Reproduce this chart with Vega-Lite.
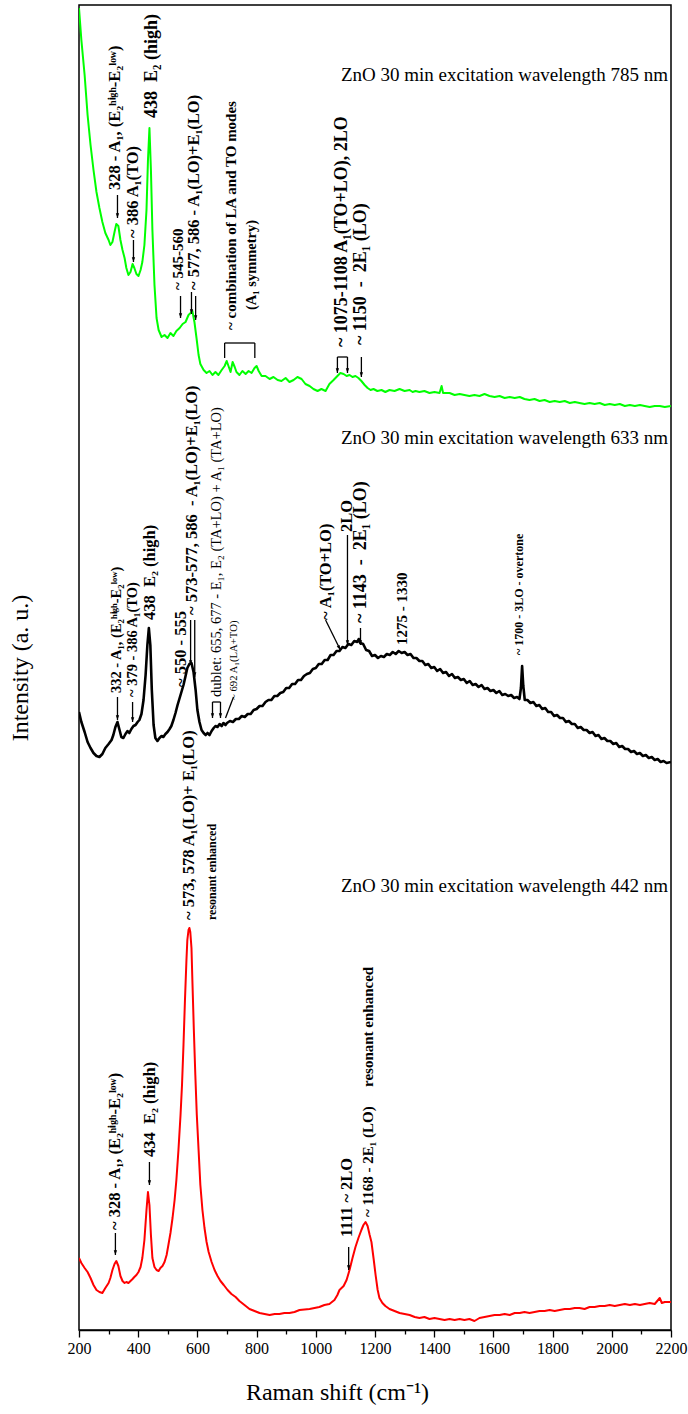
{
  "$schema": "https://vega.github.io/schema/vega-lite/v6.json",
  "width": 592,
  "height": 1325,
  "autosize": {"type": "none"},
  "padding": {"left": 79, "top": 5, "right": 17, "bottom": 84},
  "background": "white",
  "config": {
    "view": {"stroke": "#000", "strokeWidth": 1.5},
    "font": "Liberation Serif",
    "axis": {"labelFont": "Liberation Serif", "titleFont": "Liberation Serif", "labelColor": "#000", "titleColor": "#000", "domainColor": "#000", "tickColor": "#000", "grid": false},
    "text": {"font": "Liberation Serif", "color": "#000"}
  },
  "datasets": {
    "exc785": [
      {"shift":200,"intensity":1322},{"shift":208,"intensity":1290},{"shift":219,"intensity":1255},{"shift":229,"intensity":1215},{"shift":239,"intensity":1185},{"shift":249,"intensity":1160},{"shift":259,"intensity":1138},{"shift":269,"intensity":1122},{"shift":279,"intensity":1108},{"shift":289,"intensity":1097},{"shift":300,"intensity":1090},{"shift":306,"intensity":1085},{"shift":313,"intensity":1088},{"shift":320,"intensity":1098},{"shift":326,"intensity":1106},{"shift":333,"intensity":1104},{"shift":340,"intensity":1090},{"shift":347,"intensity":1080},{"shift":354,"intensity":1072},{"shift":360,"intensity":1062},{"shift":367,"intensity":1055},{"shift":374,"intensity":1058},{"shift":381,"intensity":1066},{"shift":387,"intensity":1062},{"shift":394,"intensity":1056},{"shift":401,"intensity":1054},{"shift":408,"intensity":1060},{"shift":414,"intensity":1068},{"shift":421,"intensity":1085},{"shift":428,"intensity":1120},{"shift":433,"intensity":1170},{"shift":438,"intensity":1202},{"shift":443,"intensity":1160},{"shift":448,"intensity":1100},{"shift":455,"intensity":1045},{"shift":462,"intensity":1012},{"shift":469,"intensity":1000},{"shift":479,"intensity":993},{"shift":489,"intensity":995},{"shift":499,"intensity":992},{"shift":509,"intensity":997},{"shift":519,"intensity":994},{"shift":529,"intensity":999},{"shift":540,"intensity":1002},{"shift":550,"intensity":1006},{"shift":560,"intensity":1008},{"shift":570,"intensity":1015},{"shift":577,"intensity":1017},{"shift":583,"intensity":1019},{"shift":590,"intensity":1008},{"shift":597,"intensity":992},{"shift":604,"intensity":975},{"shift":610,"intensity":966},{"shift":621,"intensity":960},{"shift":631,"intensity":957},{"shift":641,"intensity":959},{"shift":651,"intensity":955},{"shift":661,"intensity":958},{"shift":671,"intensity":955},{"shift":682,"intensity":960},{"shift":692,"intensity":964},{"shift":699,"intensity":969},{"shift":705,"intensity":964},{"shift":712,"intensity":958},{"shift":719,"intensity":968},{"shift":726,"intensity":963},{"shift":732,"intensity":958},{"shift":742,"intensity":955},{"shift":752,"intensity":959},{"shift":763,"intensity":956},{"shift":773,"intensity":959},{"shift":783,"intensity":957},{"shift":793,"intensity":962},{"shift":800,"intensity":964},{"shift":807,"intensity":959},{"shift":817,"intensity":954},{"shift":830,"intensity":954},{"shift":844,"intensity":951},{"shift":857,"intensity":953},{"shift":871,"intensity":950},{"shift":884,"intensity":949},{"shift":898,"intensity":952},{"shift":911,"intensity":948},{"shift":925,"intensity":950},{"shift":938,"intensity":953},{"shift":952,"intensity":951},{"shift":965,"intensity":946},{"shift":979,"intensity":944},{"shift":992,"intensity":941},{"shift":1006,"intensity":939},{"shift":1019,"intensity":941},{"shift":1033,"intensity":939},{"shift":1046,"intensity":946},{"shift":1060,"intensity":950},{"shift":1073,"intensity":954},{"shift":1083,"intensity":957},{"shift":1094,"intensity":956},{"shift":1104,"intensity":954},{"shift":1114,"intensity":955},{"shift":1124,"intensity":953},{"shift":1134,"intensity":954},{"shift":1144,"intensity":952},{"shift":1154,"intensity":949},{"shift":1165,"intensity":945},{"shift":1175,"intensity":942},{"shift":1185,"intensity":940},{"shift":1195,"intensity":941},{"shift":1208,"intensity":939},{"shift":1222,"intensity":940},{"shift":1235,"intensity":938},{"shift":1249,"intensity":940},{"shift":1266,"intensity":939},{"shift":1283,"intensity":941},{"shift":1300,"intensity":939},{"shift":1317,"intensity":940},{"shift":1327,"intensity":938},{"shift":1337,"intensity":939},{"shift":1350,"intensity":938},{"shift":1367,"intensity":939},{"shift":1384,"intensity":937},{"shift":1401,"intensity":938},{"shift":1418,"intensity":937},{"shift":1425,"intensity":944},{"shift":1430,"intensity":937},{"shift":1452,"intensity":937},{"shift":1469,"intensity":935},{"shift":1486,"intensity":936},{"shift":1502,"intensity":935},{"shift":1519,"intensity":934},{"shift":1536,"intensity":935},{"shift":1553,"intensity":934},{"shift":1570,"intensity":936},{"shift":1587,"intensity":934},{"shift":1604,"intensity":933},{"shift":1621,"intensity":934},{"shift":1638,"intensity":932},{"shift":1655,"intensity":933},{"shift":1672,"intensity":932},{"shift":1689,"intensity":933},{"shift":1705,"intensity":931},{"shift":1722,"intensity":930},{"shift":1739,"intensity":931},{"shift":1756,"intensity":929},{"shift":1773,"intensity":930},{"shift":1790,"intensity":928},{"shift":1807,"intensity":929},{"shift":1824,"intensity":928},{"shift":1841,"intensity":929},{"shift":1858,"intensity":927},{"shift":1875,"intensity":928},{"shift":1891,"intensity":927},{"shift":1908,"intensity":926},{"shift":1925,"intensity":927},{"shift":1942,"intensity":926},{"shift":1959,"intensity":927},{"shift":1976,"intensity":925},{"shift":1993,"intensity":926},{"shift":2010,"intensity":925},{"shift":2027,"intensity":926},{"shift":2044,"intensity":924},{"shift":2061,"intensity":925},{"shift":2078,"intensity":924},{"shift":2095,"intensity":925},{"shift":2111,"intensity":924},{"shift":2128,"intensity":923},{"shift":2145,"intensity":924},{"shift":2162,"intensity":924},{"shift":2179,"intensity":923},{"shift":2200,"intensity":924}
    ],
    "exc633": [
      {"shift":200,"intensity":618},{"shift":208,"intensity":608},{"shift":219,"intensity":598},{"shift":229,"intensity":588},{"shift":239,"intensity":582},{"shift":249,"intensity":577},{"shift":259,"intensity":574},{"shift":269,"intensity":573},{"shift":279,"intensity":576},{"shift":289,"intensity":582},{"shift":300,"intensity":586},{"shift":310,"intensity":590},{"shift":316,"intensity":595},{"shift":323,"intensity":603},{"shift":330,"intensity":608},{"shift":337,"intensity":600},{"shift":343,"intensity":593},{"shift":350,"intensity":592},{"shift":357,"intensity":596},{"shift":364,"intensity":599},{"shift":370,"intensity":597},{"shift":377,"intensity":601},{"shift":384,"intensity":604},{"shift":391,"intensity":605},{"shift":398,"intensity":608},{"shift":404,"intensity":610},{"shift":411,"intensity":616},{"shift":418,"intensity":630},{"shift":425,"intensity":655},{"shift":431,"intensity":685},{"shift":436,"intensity":702},{"shift":441,"intensity":685},{"shift":446,"intensity":640},{"shift":452,"intensity":605},{"shift":458,"intensity":592},{"shift":465,"intensity":589},{"shift":472,"intensity":592},{"shift":479,"intensity":594},{"shift":485,"intensity":593},{"shift":492,"intensity":596},{"shift":499,"intensity":598},{"shift":506,"intensity":601},{"shift":512,"intensity":604},{"shift":519,"intensity":610},{"shift":526,"intensity":617},{"shift":533,"intensity":625},{"shift":540,"intensity":632},{"shift":546,"intensity":638},{"shift":553,"intensity":645},{"shift":560,"intensity":654},{"shift":566,"intensity":662},{"shift":573,"intensity":666},{"shift":580,"intensity":667},{"shift":587,"intensity":658},{"shift":594,"intensity":640},{"shift":600,"intensity":620},{"shift":607,"intensity":608},{"shift":614,"intensity":600},{"shift":621,"intensity":597},{"shift":628,"intensity":595},{"shift":634,"intensity":597},{"shift":641,"intensity":595},{"shift":648,"intensity":599},{"shift":655,"intensity":602},{"shift":661,"intensity":604},{"shift":668,"intensity":603},{"shift":675,"intensity":606},{"shift":682,"intensity":604},{"shift":688,"intensity":607},{"shift":695,"intensity":605},
      {"shift":700,"intensity":607},{"shift":710,"intensity":609},{"shift":720,"intensity":608},{"shift":730,"intensity":611},{"shift":740,"intensity":611},{"shift":750,"intensity":614},{"shift":760,"intensity":613},{"shift":770,"intensity":616},{"shift":780,"intensity":616},{"shift":790,"intensity":620},{"shift":800,"intensity":621},{"shift":810,"intensity":624},{"shift":820,"intensity":624},{"shift":830,"intensity":628},{"shift":840,"intensity":630},{"shift":850,"intensity":630},{"shift":860,"intensity":634},{"shift":870,"intensity":634},{"shift":880,"intensity":637},{"shift":890,"intensity":638},{"shift":900,"intensity":642},{"shift":910,"intensity":642},{"shift":920,"intensity":646},{"shift":930,"intensity":646},{"shift":940,"intensity":650},{"shift":950,"intensity":650},{"shift":960,"intensity":654},{"shift":970,"intensity":656},{"shift":980,"intensity":657},{"shift":990,"intensity":661},{"shift":1000,"intensity":662},{"shift":1010,"intensity":666},{"shift":1020,"intensity":666},{"shift":1030,"intensity":670},{"shift":1040,"intensity":670},{"shift":1050,"intensity":675},{"shift":1060,"intensity":675},{"shift":1070,"intensity":679},{"shift":1080,"intensity":679},{"shift":1090,"intensity":683},{"shift":1100,"intensity":682},{"shift":1110,"intensity":686},{"shift":1120,"intensity":685},{"shift":1130,"intensity":689},{"shift":1140,"intensity":688},{"shift":1145,"intensity":691},{"shift":1150,"intensity":687},{"shift":1160,"intensity":686},{"shift":1170,"intensity":680},{"shift":1180,"intensity":679},{"shift":1190,"intensity":674},{"shift":1200,"intensity":675},{"shift":1210,"intensity":672},{"shift":1220,"intensity":674},{"shift":1230,"intensity":673},{"shift":1240,"intensity":676},{"shift":1250,"intensity":675},{"shift":1260,"intensity":678},{"shift":1270,"intensity":676},{"shift":1280,"intensity":679},{"shift":1290,"intensity":677},{"shift":1300,"intensity":678},{"shift":1310,"intensity":675},{"shift":1320,"intensity":676},{"shift":1330,"intensity":672},{"shift":1340,"intensity":672},{"shift":1350,"intensity":669},{"shift":1360,"intensity":669},{"shift":1370,"intensity":665},{"shift":1380,"intensity":666},{"shift":1390,"intensity":662},{"shift":1400,"intensity":663},{"shift":1410,"intensity":659},{"shift":1420,"intensity":661},{"shift":1430,"intensity":657},{"shift":1440,"intensity":658},{"shift":1450,"intensity":654},{"shift":1460,"intensity":656},{"shift":1470,"intensity":652},{"shift":1480,"intensity":653},{"shift":1490,"intensity":650},{"shift":1500,"intensity":651},{"shift":1510,"intensity":647},{"shift":1520,"intensity":649},{"shift":1530,"intensity":645},{"shift":1540,"intensity":646},{"shift":1550,"intensity":643},{"shift":1560,"intensity":645},{"shift":1570,"intensity":641},{"shift":1580,"intensity":642},{"shift":1590,"intensity":639},{"shift":1600,"intensity":640},{"shift":1610,"intensity":637},{"shift":1620,"intensity":639},{"shift":1630,"intensity":635},{"shift":1640,"intensity":636},{"shift":1650,"intensity":634},{"shift":1660,"intensity":635},{"shift":1670,"intensity":632},{"shift":1680,"intensity":633},{"shift":1688,"intensity":631},{"shift":1693,"intensity":642},{"shift":1697,"intensity":664},{"shift":1701,"intensity":644},{"shift":1706,"intensity":630},{"shift":1715,"intensity":630},{"shift":1725,"intensity":627},{"shift":1735,"intensity":628},{"shift":1745,"intensity":624},{"shift":1755,"intensity":625},{"shift":1765,"intensity":621},{"shift":1775,"intensity":622},{"shift":1785,"intensity":618},{"shift":1795,"intensity":618},{"shift":1805,"intensity":614},{"shift":1815,"intensity":615},{"shift":1825,"intensity":612},{"shift":1835,"intensity":612},{"shift":1845,"intensity":608},{"shift":1855,"intensity":609},{"shift":1865,"intensity":606},{"shift":1875,"intensity":606},{"shift":1885,"intensity":602},{"shift":1895,"intensity":603},{"shift":1905,"intensity":600},{"shift":1915,"intensity":600},{"shift":1925,"intensity":597},{"shift":1935,"intensity":598},{"shift":1945,"intensity":594},{"shift":1955,"intensity":595},{"shift":1965,"intensity":591},{"shift":1975,"intensity":592},{"shift":1985,"intensity":589},{"shift":1995,"intensity":589},{"shift":2005,"intensity":586},{"shift":2015,"intensity":587},{"shift":2025,"intensity":583},{"shift":2035,"intensity":584},{"shift":2045,"intensity":581},{"shift":2055,"intensity":581},{"shift":2065,"intensity":578},{"shift":2075,"intensity":579},{"shift":2085,"intensity":576},{"shift":2095,"intensity":577},{"shift":2105,"intensity":574},{"shift":2115,"intensity":575},{"shift":2125,"intensity":572},{"shift":2135,"intensity":573},{"shift":2145,"intensity":570},{"shift":2155,"intensity":571},{"shift":2165,"intensity":568},{"shift":2175,"intensity":569},{"shift":2185,"intensity":567},{"shift":2200,"intensity":568}
    ],
    "exc442": [
      {"shift":200,"intensity":72},{"shift":208,"intensity":67},{"shift":219,"intensity":62},{"shift":229,"intensity":58},{"shift":239,"intensity":52},{"shift":249,"intensity":45},{"shift":259,"intensity":40},{"shift":269,"intensity":38},{"shift":279,"intensity":37},{"shift":289,"intensity":42},{"shift":300,"intensity":47},{"shift":306,"intensity":52},{"shift":313,"intensity":60},{"shift":320,"intensity":66},{"shift":326,"intensity":69},{"shift":333,"intensity":64},{"shift":340,"intensity":54},{"shift":347,"intensity":49},{"shift":354,"intensity":47},{"shift":360,"intensity":48},{"shift":367,"intensity":47},{"shift":374,"intensity":49},{"shift":381,"intensity":51},{"shift":387,"intensity":53},{"shift":394,"intensity":55},{"shift":401,"intensity":58},{"shift":408,"intensity":63},{"shift":414,"intensity":72},{"shift":421,"intensity":90},{"shift":428,"intensity":120},{"shift":433,"intensity":138},{"shift":438,"intensity":125},{"shift":443,"intensity":95},{"shift":448,"intensity":72},{"shift":455,"intensity":63},{"shift":462,"intensity":60},{"shift":469,"intensity":59},{"shift":475,"intensity":62},{"shift":482,"intensity":64},{"shift":489,"intensity":68},{"shift":496,"intensity":75},{"shift":502,"intensity":85},{"shift":509,"intensity":97},{"shift":516,"intensity":112},{"shift":523,"intensity":130},{"shift":529,"intensity":150},{"shift":536,"intensity":180},{"shift":543,"intensity":215},{"shift":548,"intensity":245},{"shift":553,"intensity":285},{"shift":558,"intensity":330},{"shift":563,"intensity":370},{"shift":566,"intensity":390},{"shift":570,"intensity":400},{"shift":573,"intensity":402},{"shift":576,"intensity":398},{"shift":580,"intensity":382},{"shift":583,"intensity":350},{"shift":588,"intensity":300},{"shift":593,"intensity":255},{"shift":598,"intensity":215},{"shift":604,"intensity":180},{"shift":610,"intensity":145},{"shift":617,"intensity":120},{"shift":624,"intensity":102},{"shift":631,"intensity":88},{"shift":638,"intensity":78},{"shift":648,"intensity":68},{"shift":658,"intensity":60},{"shift":668,"intensity":54},{"shift":678,"intensity":49},{"shift":689,"intensity":45},{"shift":702,"intensity":40},{"shift":715,"intensity":36},{"shift":729,"intensity":33},{"shift":742,"intensity":29},{"shift":759,"intensity":25},{"shift":776,"intensity":21},{"shift":793,"intensity":19},{"shift":810,"intensity":17},{"shift":827,"intensity":16},{"shift":844,"intensity":15},{"shift":861,"intensity":16},{"shift":877,"intensity":16},{"shift":894,"intensity":17},{"shift":911,"intensity":17},{"shift":928,"intensity":18},{"shift":945,"intensity":20},{"shift":979,"intensity":21},{"shift":1012,"intensity":23},{"shift":1029,"intensity":25},{"shift":1046,"intensity":26},{"shift":1063,"intensity":30},{"shift":1073,"intensity":35},{"shift":1080,"intensity":40},{"shift":1094,"intensity":44},{"shift":1104,"intensity":50},{"shift":1114,"intensity":60},{"shift":1124,"intensity":72},{"shift":1134,"intensity":83},{"shift":1144,"intensity":92},{"shift":1154,"intensity":100},{"shift":1161,"intensity":105},{"shift":1168,"intensity":108},{"shift":1175,"intensity":104},{"shift":1182,"intensity":95},{"shift":1188,"intensity":88},{"shift":1195,"intensity":72},{"shift":1202,"intensity":55},{"shift":1209,"intensity":40},{"shift":1215,"intensity":32},{"shift":1225,"intensity":27},{"shift":1235,"intensity":24},{"shift":1249,"intensity":21},{"shift":1266,"intensity":19},{"shift":1283,"intensity":17},{"shift":1300,"intensity":16},{"shift":1317,"intensity":15},{"shift":1334,"intensity":13},{"shift":1350,"intensity":12},{"shift":1367,"intensity":13},{"shift":1384,"intensity":11},{"shift":1401,"intensity":12},{"shift":1418,"intensity":11},{"shift":1435,"intensity":10},{"shift":1452,"intensity":11},{"shift":1469,"intensity":10},{"shift":1486,"intensity":11},{"shift":1502,"intensity":10},{"shift":1519,"intensity":11},{"shift":1536,"intensity":9},{"shift":1553,"intensity":12},{"shift":1570,"intensity":13},{"shift":1587,"intensity":14},{"shift":1604,"intensity":15},{"shift":1621,"intensity":15},{"shift":1638,"intensity":16},{"shift":1655,"intensity":15},{"shift":1672,"intensity":17},{"shift":1689,"intensity":17},{"shift":1705,"intensity":18},{"shift":1722,"intensity":17},{"shift":1739,"intensity":18},{"shift":1756,"intensity":19},{"shift":1773,"intensity":19},{"shift":1790,"intensity":20},{"shift":1807,"intensity":19},{"shift":1824,"intensity":20},{"shift":1841,"intensity":21},{"shift":1858,"intensity":21},{"shift":1875,"intensity":22},{"shift":1891,"intensity":22},{"shift":1908,"intensity":21},{"shift":1925,"intensity":23},{"shift":1942,"intensity":23},{"shift":1959,"intensity":24},{"shift":1976,"intensity":24},{"shift":1993,"intensity":25},{"shift":2010,"intensity":24},{"shift":2027,"intensity":25},{"shift":2044,"intensity":26},{"shift":2061,"intensity":25},{"shift":2078,"intensity":26},{"shift":2095,"intensity":25},{"shift":2111,"intensity":26},{"shift":2128,"intensity":27},{"shift":2145,"intensity":26},{"shift":2162,"intensity":32},{"shift":2169,"intensity":27},{"shift":2179,"intensity":28},{"shift":2200,"intensity":28}
    ],
    "arrows": [
      {"shift":330,"top":1135,"tip":1112},{"shift":384,"top":1090,"tip":1068},{"shift":543,"top":1034,"tip":1012},{"shift":580,"top":1038,"tip":1016},{"shift":594,"top":1034,"tip":1010},
      {"shift":1073,"top":973,"tip":957},{"shift":1107,"top":973,"tip":957},{"shift":1154,"top":973,"tip":953},
      {"shift":330,"top":633,"tip":610},{"shift":381,"top":628,"tip":608},{"shift":577,"top":710,"tip":665},{"shift":591,"top":710,"tip":653},
      {"shift":651,"top":628,"tip":612},{"shift":678,"top":628,"tip":612},{"shift":1107,"top":795,"tip":685},{"shift":1151,"top":702,"tip":685},
      {"shift":323,"top":97,"tip":75},{"shift":438,"top":168,"tip":145},{"shift":1111,"top":83,"tip":60}
    ],
    "segments": [
      {"shift":1073,"shift2":1107,"from":973,"to":973},
      {"shift":692,"shift2":794,"from":987,"to":987},
      {"shift":692,"shift2":692,"from":987,"to":972},
      {"shift":794,"shift2":794,"from":987,"to":972},
      {"shift":651,"shift2":678,"from":628,"to":628},
      {"shift":722,"shift2":695,"from":633,"to":612},
      {"shift":1033,"shift2":1083,"from":710,"to":680}
    ],
    "slantTips": [{"shift":1083,"tip":680}],
    "captions": [
      {"shift":2190,"intensity":1255,"text":"ZnO 30 min excitation wavelength 785 nm"},
      {"shift":2190,"intensity":892,"text":"ZnO 30 min excitation wavelength 633 nm"},
      {"shift":2190,"intensity":444,"text":"ZnO 30 min excitation wavelength 442 nm"}
    ],
    "modesSmall": [
      {"shift":536,"intensity":1040,"text":"~ 545-560"},
      {"shift":712,"intensity":1000,"text":"~ combination of LA and TO modes"},
      {"shift":1292,"intensity":685,"text":"1275 - 1330"},
      {"shift":1175,"intensity":113,"text":"~ 1168 - 2E₁ (LO)"},
      {"shift":1175,"intensity":243,"text":"resonant enhanced"}
    ],
    "modes": [
      {"shift":323,"intensity":1140,"text":"328 - A₁, (E₂ʰⁱᵍʰ-E₂ˡᵒʷ)"},
      {"shift":384,"intensity":1092,"text":"~ 386 A₁(TO)"},
      {"shift":587,"intensity":1040,"text":"~ 577, 586 - A₁(LO)+E₁(LO)"},
      {"shift":441,"intensity":710,"text":"438\u2002E₂ (high)"},
      {"shift":543,"intensity":643,"text":"~ 550 - 555"},
      {"shift":583,"intensity":715,"text":"~ 573-577, 586\u2002- A₁(LO)+E₁(LO)"},
      {"shift":1033,"intensity":710,"text":"~ A₁(TO+LO)"},
      {"shift":1104,"intensity":798,"text":"2LO"},
      {"shift":323,"intensity":100,"text":"~ 328 - A₁, (E₂ʰⁱᵍʰ-E₂ˡᵒʷ)"},
      {"shift":441,"intensity":173,"text":"434\u2002E₂ (high)"},
      {"shift":570,"intensity":410,"text":"~ 573, 578 A₁(LO)+ E₁(LO)"},
      {"shift":1107,"intensity":93,"text":"1111 ~ 2LO"}
    ],
    "modesLarge": [
      {"shift":448,"intensity":1212,"text":"438\u2002E₂ (high)"},
      {"shift":1087,"intensity":983,"text":"~ 1075-1108  A₁(TO+LO), 2LO"},
      {"shift":1154,"intensity":985,"text":"~ 1150\u2002-\u20022E₁ (LO)"},
      {"shift":1154,"intensity":707,"text":"~ 1143\u2002-\u20022E₁ (LO)"}
    ],
    "notes": [
      {"shift":651,"intensity":410,"text":"resonant enhanced"},
      {"shift":1688,"intensity":675,"text":"~ 1700 - 3LO - overtone"}
    ],
    "notesMid": [
      {"shift":330,"intensity":637,"text":"332 - A₁, (E₂ʰⁱᵍʰ-E₂ˡᵒʷ)"},
      {"shift":384,"intensity":633,"text":"~ 379 - 386 A₁(TO)"},
      {"shift":783,"intensity":1020,"text":"(A₁ symmetry)"}
    ],
    "dublet": [
      {"shift":665,"intensity":633,"text":"dublet: 655, 677 - E₁, E₂ (TA+LO) + A₁ (TA+LO)"}
    ],
    "tiny": [
      {"shift":722,"intensity":630,"text":"~ 692 A₁(LA+TO)"}
    ]
  },
  "resolve": {"axis": {"x": "independent", "y": "independent"}},
  "layer": [
    {
      "data": {"name": "exc785"},
      "mark": {"type": "line", "color": "#00ff00", "strokeWidth": 2, "strokeJoin": "round", "clip": true},
      "encoding": {
        "x": {"field": "shift", "type": "quantitative", "scale": {"domain": [200, 2200], "nice": false, "zero": false},
          "axis": {"values": [200, 400, 600, 800, 1000, 1200, 1400, 1600, 1800, 2000, 2200], "format": "d", "labelFontSize": 16, "tickSize": 7, "tickWidth": 1.3, "domainWidth": 1.5, "labelPadding": 3, "labelFlush": false, "title": "Raman shift (cm⁻¹)", "titleFontSize": 24, "titleFontWeight": "normal", "titlePadding": 24, "titleX": 258}},
        "y": {"field": "intensity", "type": "quantitative", "scale": {"domain": [0, 1325], "nice": false, "zero": false},
          "axis": {"title": "Intensity (a. u.)", "labels": false, "ticks": false, "domain": false, "titleFontSize": 24, "titleFontWeight": "normal", "titlePadding": 47}}
      }
    },
    {
      "data": {"name": "exc633"},
      "mark": {"type": "line", "color": "#000000", "strokeWidth": 2.6, "strokeJoin": "round", "clip": true},
      "encoding": {
        "x": {"field": "shift", "type": "quantitative", "scale": {"domain": [200, 2200]}, "axis": null},
        "y": {"field": "intensity", "type": "quantitative", "scale": {"domain": [0, 1325]}, "axis": null}
      }
    },
    {
      "data": {"name": "exc442"},
      "mark": {"type": "line", "color": "#ff0000", "strokeWidth": 2, "strokeJoin": "round", "clip": true},
      "encoding": {
        "x": {"field": "shift", "type": "quantitative", "axis": null},
        "y": {"field": "intensity", "type": "quantitative", "axis": null}
      }
    },
    {
      "data": {"name": "segments"},
      "mark": {"type": "rule", "color": "#000", "strokeWidth": 1.3},
      "encoding": {
        "x": {"field": "shift", "type": "quantitative",
          "axis": {"orient": "bottom", "values": [300, 500, 700, 900, 1100, 1300, 1500, 1700, 1900, 2100], "labels": false, "domain": false, "tickSize": 4, "tickWidth": 1.3, "title": null}},
        "x2": {"field": "shift2"},
        "y": {"field": "from", "type": "quantitative", "axis": null},
        "y2": {"field": "to"}
      }
    },
    {
      "data": {"name": "arrows"},
      "mark": {"type": "rule", "color": "#000", "strokeWidth": 1.3},
      "encoding": {
        "x": {"field": "shift", "type": "quantitative", "axis": null},
        "y": {"field": "top", "type": "quantitative", "axis": null},
        "y2": {"field": "tip"}
      }
    },
    {
      "data": {"name": "arrows"},
      "mark": {"type": "point", "shape": "M -0.35 -1 L 0.35 -1 L 0 0 Z", "size": 90, "filled": true, "color": "#000", "opacity": 1},
      "encoding": {
        "x": {"field": "shift", "type": "quantitative", "axis": null},
        "y": {"field": "tip", "type": "quantitative", "axis": null}
      }
    },
    {
      "data": {"name": "slantTips"},
      "mark": {"type": "point", "shape": "M -0.35 -1 L 0.35 -1 L 0 0 Z", "size": 90, "filled": true, "color": "#000", "opacity": 1, "angle": 333},
      "encoding": {
        "x": {"field": "shift", "type": "quantitative", "axis": null},
        "y": {"field": "tip", "type": "quantitative", "axis": null}
      }
    },
    {
      "data": {"name": "captions"},
      "mark": {"type": "text", "fontSize": 19, "align": "right", "baseline": "middle"},
      "encoding": {
        "x": {"field": "shift", "type": "quantitative", "axis": null},
        "y": {"field": "intensity", "type": "quantitative", "axis": null},
        "text": {"field": "text"}
      }
    },
    {
      "data": {"name": "modesSmall"},
      "mark": {"type": "text", "fontSize": 15, "fontWeight": "bold", "angle": 270, "align": "left", "baseline": "middle"},
      "encoding": {
        "x": {"field": "shift", "type": "quantitative", "axis": null},
        "y": {"field": "intensity", "type": "quantitative", "axis": null},
        "text": {"field": "text"}
      }
    },
    {
      "data": {"name": "modes"},
      "mark": {"type": "text", "fontSize": 16.5, "fontWeight": "bold", "angle": 270, "align": "left", "baseline": "middle"},
      "encoding": {
        "x": {"field": "shift", "type": "quantitative", "axis": null},
        "y": {"field": "intensity", "type": "quantitative", "axis": null},
        "text": {"field": "text"}
      }
    },
    {
      "data": {"name": "modesLarge"},
      "mark": {"type": "text", "fontSize": 18, "fontWeight": "bold", "angle": 270, "align": "left", "baseline": "middle"},
      "encoding": {
        "x": {"field": "shift", "type": "quantitative", "axis": null},
        "y": {"field": "intensity", "type": "quantitative", "axis": null},
        "text": {"field": "text"}
      }
    },
    {
      "data": {"name": "notes"},
      "mark": {"type": "text", "fontSize": 12, "fontWeight": "bold", "angle": 270, "align": "left", "baseline": "middle"},
      "encoding": {
        "x": {"field": "shift", "type": "quantitative", "axis": null},
        "y": {"field": "intensity", "type": "quantitative", "axis": null},
        "text": {"field": "text"}
      }
    },
    {
      "data": {"name": "notesMid"},
      "mark": {"type": "text", "fontSize": 14.5, "fontWeight": "bold", "angle": 270, "align": "left", "baseline": "middle"},
      "encoding": {
        "x": {"field": "shift", "type": "quantitative", "axis": null},
        "y": {"field": "intensity", "type": "quantitative", "axis": null},
        "text": {"field": "text"}
      }
    },
    {
      "data": {"name": "dublet"},
      "mark": {"type": "text", "fontSize": 14.5, "angle": 270, "align": "left", "baseline": "middle"},
      "encoding": {
        "x": {"field": "shift", "type": "quantitative", "axis": null},
        "y": {"field": "intensity", "type": "quantitative", "axis": null},
        "text": {"field": "text"}
      }
    },
    {
      "data": {"name": "tiny"},
      "mark": {"type": "text", "fontSize": 10.7, "angle": 270, "align": "left", "baseline": "middle"},
      "encoding": {
        "x": {"field": "shift", "type": "quantitative", "axis": null},
        "y": {"field": "intensity", "type": "quantitative", "axis": null},
        "text": {"field": "text"}
      }
    }
  ]
}
